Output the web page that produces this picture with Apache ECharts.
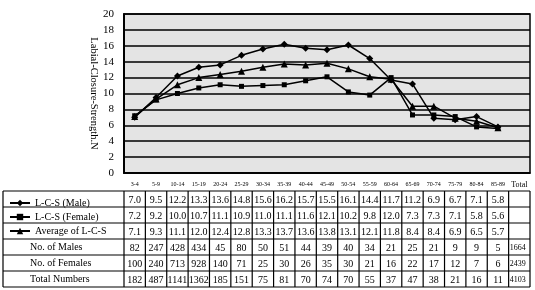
<!DOCTYPE html>
<html>
<head>
<meta charset="utf-8">
<script src="https://cdn.jsdelivr.net/npm/echarts@6/dist/echarts.min.js"></script>
<style>
html,body{margin:0;padding:0;background:#fff;}
#main{width:535px;height:290px;}
</style>
</head>
<body>
<div id="main"></div>
<script>
var ages=['3-4','5-9','10-14','15-19','20-24','25-29','30-34','35-39','40-44','45-49','50-54','55-59','60-64','65-69','70-74','75-79','80-84','85-89','Total'];
var lcsMale=[7.0,9.5,12.2,13.3,13.6,14.8,15.6,16.2,15.7,15.5,16.1,14.4,11.7,11.2,6.9,6.7,7.1,5.8];
var lcsFemale=[7.2,9.2,10.0,10.7,11.1,10.9,11.0,11.1,11.6,12.1,10.2,9.8,12.0,7.3,7.3,7.1,5.8,5.6];
var lcsAvg=[7.1,9.3,11.1,12.0,12.4,12.8,13.3,13.7,13.6,13.8,13.1,12.1,11.8,8.4,8.4,6.9,6.5,5.7];
var noMales=[82,247,428,434,45,80,50,51,44,39,40,34,21,25,21,9,9,5,1664];
var noFemales=[100,240,713,928,140,71,25,30,26,35,30,21,16,22,17,12,7,6,2439];
var totalNumbers=[182,487,1141,1362,185,151,75,81,70,74,70,55,37,47,38,21,16,11,4103];
var seriesNames=['L-C-S (Male)','L-C-S (Female)','Average of L-C-S'];
var rowNames=['No. of Males','No. of Females','Total Numbers'];

var serif='Liberation Serif';
var chartDom=document.getElementById('main');
var myChart=echarts.init(chartDom);

// table rows (y of top border), header row sits under the plot
var rowTops=[191,207,223,239,255,271,287];
var tableLeft=3;

var option={
    animation:false,
    textStyle:{fontFamily:serif,color:'#000'},
    grid:{
        left:124,right:5,top:14,bottom:117,
        show:true,backgroundColor:'#e4e4e4',borderColor:'#000',borderWidth:1.5
    },
    legend:{
        orient:'vertical',
        left:4,top:193,
        itemWidth:20,itemHeight:8,itemGap:4,
        data:seriesNames,
        textStyle:{fontFamily:serif,fontSize:10,color:'#000'},
        inactiveColor:'#000'
    },
    xAxis:{
        type:'category',
        data:ages,
        boundaryGap:true,
        axisLine:{lineStyle:{color:'#000',width:1.5}},
        axisTick:{length:18,interval:0,lineStyle:{color:'#000',width:1}},
        axisLabel:{
            interval:0,margin:8,fontFamily:serif,fontSize:6,color:'#000',
            formatter:function(v){return v=='Total'?'{t|'+v+'}':v;},
            rich:{t:{fontSize:8,fontFamily:serif,color:'#000'}}
        }
    },
    yAxis:{
        type:'value',
        min:0,max:20,interval:2,
        name:'Labial-Closure-Strength.N',
        nameLocation:'middle',
        nameRotate:-90,
        nameGap:25,
        nameMoveOverlap:false,
        nameTextStyle:{fontFamily:serif,fontSize:10.5,color:'#000'},
        axisLine:{show:true,lineStyle:{color:'#000',width:2}},
        axisTick:{show:false},
        axisLabel:{fontFamily:serif,fontSize:11,color:'#000',margin:10},
        splitLine:{lineStyle:{color:'#000',width:1.5}}
    },
    series:[
        {
            name:seriesNames[0],type:'line',data:lcsMale,
            symbol:'diamond',symbolSize:7,
            itemStyle:{color:'#000'},lineStyle:{color:'#000',width:1.5}
        },
        {
            name:seriesNames[1],type:'line',data:lcsFemale,
            symbol:'rect',symbolSize:5,
            itemStyle:{color:'#000'},lineStyle:{color:'#000',width:1.5}
        },
        {
            name:seriesNames[2],type:'line',data:lcsAvg,
            symbol:'triangle',symbolSize:7,
            itemStyle:{color:'#000'},lineStyle:{color:'#000',width:1.5}
        }
    ]
};
option && myChart.setOption(option);

// data table under the plot, columns taken from the x axis
function drawTable(){
    var els=[];
    var c0=myChart.convertToPixel({xAxisIndex:0},0);
    var c1=myChart.convertToPixel({xAxisIndex:0},1);
    var bw=c1-c0;
    var right=myChart.convertToPixel({xAxisIndex:0},ages.length-1)+bw/2;
    var plotLeft=c0-bw/2;
    var rows=[
        lcsMale.map(function(v){return v.toFixed(1);}),
        lcsFemale.map(function(v){return v.toFixed(1);}),
        lcsAvg.map(function(v){return v.toFixed(1);}),
        noMales,noFemales,totalNumbers
    ];
    var ls={stroke:'#000',lineWidth:1.2};
    // horizontal lines
    for(var r=0;r<rowTops.length;r++){
        els.push({type:'line',shape:{x1:tableLeft,y1:rowTops[r],x2:right,y2:rowTops[r]},style:ls});
    }
    // vertical lines
    els.push({type:'line',shape:{x1:tableLeft,y1:rowTops[0],x2:tableLeft,y2:rowTops[6]},style:ls});
    for(var i=0;i<=ages.length;i++){
        var x=plotLeft+i*bw;
        els.push({type:'line',shape:{x1:x,y1:rowTops[0],x2:x,y2:rowTops[6]},style:ls});
    }
    // row names for the count rows
    for(var k=0;k<rowNames.length;k++){
        els.push({type:'text',x:30,y:(rowTops[3+k]+rowTops[4+k])/2,
            style:{text:rowNames[k],font:'10px '+serif,fill:'#000',verticalAlign:'middle'}});
    }
    // cell values
    for(var r=0;r<rows.length;r++){
        for(var j=0;j<rows[r].length;j++){
            var cx=myChart.convertToPixel({xAxisIndex:0},j);
            var isTot=(j==ages.length-1);
            els.push({type:'text',x:isTot?cx-bw/2+1:cx,y:(rowTops[r]+rowTops[r+1])/2+1,
                style:{text:String(rows[r][j]),font:(isTot?'8px ':'10px ')+serif,fill:'#000',
                    align:isTot?'left':'center',verticalAlign:'middle'}});
        }
    }
    myChart.setOption({graphic:{elements:els}});
}
drawTable();
</script>
</body>
</html>
